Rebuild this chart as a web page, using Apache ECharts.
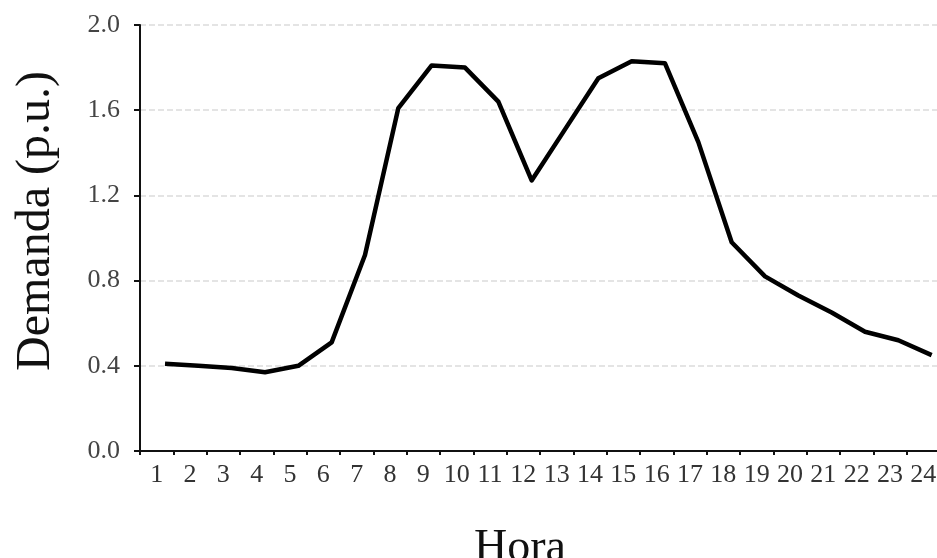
<!DOCTYPE html>
<html>
<head>
<meta charset="utf-8">
<script src="https://cdn.jsdelivr.net/npm/echarts@6/dist/echarts.min.js"></script>
<style>
html,body{margin:0;padding:0;background:#fff;}
#chart{width:937px;height:558px;}
</style>
</head>
<body>
<div id="chart"></div>
<script>
const hours = ['1','2','3','4','5','6','7','8','9','10','11','12','13','14','15','16','17','18','19','20','21','22','23','24'];
const demand = [0.41,0.40,0.39,0.37,0.40,0.51,0.92,1.61,1.81,1.80,1.64,1.27,1.51,1.75,1.83,1.82,1.45,0.98,0.82,0.73,0.65,0.56,0.52,0.45];
const yTicks = {min:0, max:2.0, interval:0.4};

const chart = echarts.init(document.getElementById('chart'));
const serif = 'Liberation Serif';
chart.setOption({
  backgroundColor:'#fff',
  animation:false,
  grid:{left:140, top:25, width:800, bottom:107, containLabel:false, outerBoundsMode:'none'},
  xAxis:[{
    type:'category',
    data:hours,
    boundaryGap:true,
    name:'Hora',
    nameLocation:'middle',
    nameGap:75,
    nameTextStyle:{fontFamily:serif, fontSize:46, color:'#111', padding:[0,40,0,0]},
    axisLine:{lineStyle:{color:'#111', width:2}},
    axisTick:{show:true, length:4, lineStyle:{color:'#111', width:2}},
    axisLabel:{interval:0, fontFamily:serif, fontSize:26, color:'#333', margin:11},
    splitLine:{show:false}
  },{
    type:'value',
    min:0.25, max:24.25,
    show:false
  }],
  yAxis:{
    type:'value',
    min:yTicks.min, max:yTicks.max, interval:yTicks.interval,
    name:'Demanda (p.u.)',
    nameLocation:'middle',
    nameGap:80,
    nameTextStyle:{fontFamily:serif, fontSize:48, color:'#111', padding:[0,0,0,34]},
    axisLine:{show:true, lineStyle:{color:'#111', width:2}},
    axisTick:{show:true, length:6, lineStyle:{color:'#111', width:2}},
    axisLabel:{fontFamily:serif, fontSize:26, color:'#444', margin:20, formatter:v=>v.toFixed(1)},
    splitLine:{show:true, lineStyle:{color:'#dcdcdc', type:'dashed', width:1.5}}
  },
  series:[{
    type:'line',
    xAxisIndex:1,
    data:hours.map((h,i)=>[Number(h), demand[i]]),
    showSymbol:false,
    lineStyle:{color:'#000', width:4.5, join:'round'},
    itemStyle:{color:'#000'}
  }]
});
</script>
</body>
</html>
